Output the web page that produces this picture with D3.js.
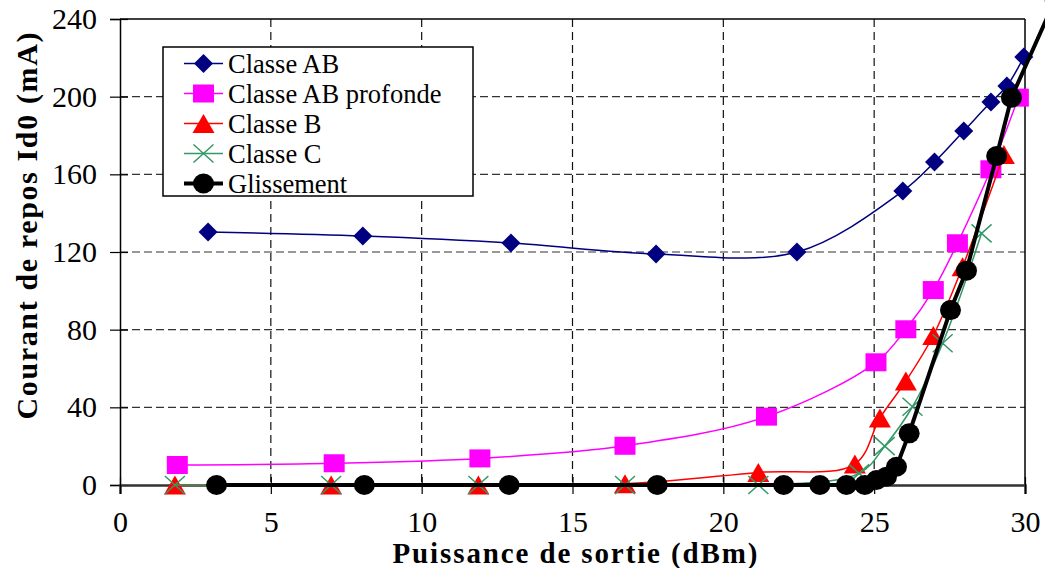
<!DOCTYPE html>
<html>
<head>
<meta charset="utf-8">
<script src="https://cdn.jsdelivr.net/npm/d3@7"></script>
<style>
  html, body { margin: 0; padding: 0; background: #fff; }
  svg { display: block; }
</style>
</head>
<body>
<svg id="chart" width="1045" height="568"></svg>
<script>
// Quiescent drain current vs. output power for several bias classes
const xTicks = [0, 5, 10, 15, 20, 25, 30];
const yTicks = [0, 40, 80, 120, 160, 200, 240];

const classeAB = [
  [2.92, 130.3], [8.05, 128.2], [12.96, 124.6], [17.77, 119], [22.44, 120],
  [25.95, 151.4], [27.0, 166.3], [27.97, 182.3], [28.87, 197.2], [29.4, 205.5], [29.96, 220.4]
];
const classeABProfonde = [
  [1.9, 10.3], [7.1, 11.2], [11.93, 13.7], [16.74, 20.2], [21.43, 35.2],
  [25.06, 63.2], [26.05, 80.2], [26.96, 100.4], [27.76, 124.5], [28.87, 162.6], [29.78, 199.5]
];
const classeB = [
  [1.82, 0], [7.0, 0], [11.88, 0], [16.74, 0.6], [21.16, 6.5],
  [24.36, 10.8], [25.19, 34.5], [26.05, 53.5], [26.96, 77], [27.93, 112.4], [29.3, 170.2]
];
const classeC = [
  [1.82, 0], [7.0, 0], [11.88, 0], [16.74, 0], [21.16, 0],
  [24.5, 6], [25.35, 20], [26.27, 40.3], [27.27, 73], [28.56, 129.6]
];
const glissement = [
  [3.2, 0], [8.1, 0], [12.9, 0], [17.81, 0], [22.0, 0], [23.2, 0], [24.08, 0], [24.69, 0],
  [25.08, 2.6], [25.41, 4.3], [25.74, 9.4], [26.16, 26.6], [27.53, 90.1], [28.06, 110.4],
  [29.06, 169.4], [29.55, 199.5], [31.0, 250]
];

const series = [
  { name: "Classe AB", data: classeAB, color: "#000080", width: 1.5, marker: "diamond", smooth: true },
  { name: "Classe AB profonde", data: classeABProfonde, color: "#FF00FF", width: 1.5, marker: "square", smooth: true },
  { name: "Classe B", data: classeB, color: "#FF0000", width: 1.5, marker: "triangle", smooth: true },
  { name: "Classe C", data: classeC, color: "#339966", width: 1.5, marker: "cross", smooth: true },
  { name: "Glissement", data: glissement, color: "#000000", width: 4, marker: "circle", smooth: false }
];

const svg = d3.select("#chart");
const x = d3.scaleLinear().domain([0, 30]).range([120, 1025]);
const y = d3.scaleLinear().domain([0, 240]).range([485, 19]);
const serif = '"Liberation Serif", "Times New Roman", serif';

// dashed grid
const grid = svg.append("g");
grid.selectAll("line.v").data(xTicks.filter(d => d > 0 && d < 30)).join("line")
  .attr("x1", d => x(d)).attr("x2", d => x(d)).attr("y1", y(240)).attr("y2", y(0))
  .attr("stroke", "#111").attr("stroke-width", 1.2).attr("stroke-dasharray", "8,5");
grid.selectAll("line.h").data(yTicks.filter(d => d > 0 && d < 240)).join("line")
  .attr("x1", x(0)).attr("x2", x(30)).attr("y1", d => y(d)).attr("y2", d => y(d))
  .attr("stroke", "#333").attr("stroke-width", 1.2).attr("stroke-dasharray", "8,4");

// frame top and right
svg.append("line").attr("x1", x(0)).attr("x2", x(30)).attr("y1", y(240)).attr("y2", y(240))
  .attr("stroke", "#000").attr("stroke-width", 1.5);
svg.append("line").attr("x1", x(30)).attr("x2", x(30)).attr("y1", y(240)).attr("y2", y(0))
  .attr("stroke", "#000").attr("stroke-width", 1.5);

// axes
const yAxis = svg.append("g").attr("transform", `translate(${x(0)},0)`)
  .call(d3.axisLeft(y).tickValues(yTicks).tickSize(10).tickPadding(13).tickFormat(d3.format("d")));
const xAxis = svg.append("g").attr("transform", `translate(0,${y(0)})`)
  .call(d3.axisBottom(x).tickValues(xTicks).tickSize(9).tickPadding(17).tickFormat(d3.format("d")));
[yAxis, xAxis].forEach(a => {
  a.attr("font-family", null);
  a.select(".domain").attr("stroke", "#000").attr("stroke-width", 1.5);
  a.selectAll(".tick line").attr("stroke", "#000").attr("stroke-width", 1.2);
  a.selectAll("text").style("font-family", serif).style("font-size", "30px").attr("fill", "#000");
});
yAxis.selectAll(".tick line").attr("x1", 8);
xAxis.selectAll(".tick line").attr("y1", -8);
xAxis.select(".domain").attr("stroke", "#333").attr("stroke-width", 2.5);

// marker shapes
function drawMarker(g, type, color, cx, cy) {
  if (type === "diamond") {
    g.append("path").attr("d", `M${cx},${cy - 9.5}L${cx + 9.5},${cy}L${cx},${cy + 9.5}L${cx - 9.5},${cy}Z`)
      .attr("fill", color);
  } else if (type === "square") {
    g.append("rect").attr("x", cx - 10.5).attr("y", cy - 9).attr("width", 21).attr("height", 18)
      .attr("fill", color);
  } else if (type === "triangle") {
    g.append("path").attr("d", `M${cx},${cy - 9.5}L${cx + 11},${cy + 9.5}L${cx - 11},${cy + 9.5}Z`)
      .attr("fill", color);
  } else if (type === "cross") {
    g.append("path").attr("d", `M${cx - 10},${cy - 9}L${cx + 10},${cy + 9}M${cx - 10},${cy + 9}L${cx + 10},${cy - 9}`)
      .attr("stroke", color).attr("stroke-width", 1.5).attr("fill", "none");
  } else if (type === "circle") {
    g.append("ellipse").attr("cx", cx).attr("cy", cy).attr("rx", 10.5).attr("ry", 10)
      .attr("fill", color);
  }
}

const smoothLine = d3.line().x(d => x(d[0])).y(d => y(d[1])).curve(d3.curveCatmullRom.alpha(0.5));
const straightLine = d3.line().x(d => x(d[0])).y(d => y(d[1]));

series.forEach(s => {
  const g = svg.append("g");
  g.append("path").attr("d", (s.smooth ? smoothLine : straightLine)(s.data))
    .attr("fill", "none").attr("stroke", s.color).attr("stroke-width", s.width)
    .attr("stroke-linejoin", "round");
  s.data.forEach(d => drawMarker(g, s.marker, s.color, x(d[0]), y(d[1])));
});

// legend
const legend = svg.append("g");
legend.append("rect").attr("x", 163).attr("y", 47).attr("width", 310).attr("height", 149)
  .attr("fill", "#fff").attr("stroke", "#000").attr("stroke-width", 1.5);
series.forEach((s, i) => {
  const cy = 63.5 + i * 30;
  legend.append("line").attr("x1", 184).attr("x2", 223).attr("y1", cy).attr("y2", cy)
    .attr("stroke", s.color).attr("stroke-width", s.width);
  drawMarker(legend, s.marker, s.color, 203.5, cy);
  legend.append("text").attr("x", 228).attr("y", cy + 9)
    .style("font-family", serif).style("font-size", "26.5px").attr("fill", "#000").text(s.name);
});

// axis titles
svg.append("text").attr("x", 575).attr("y", 563).attr("text-anchor", "middle")
  .style("font-family", serif).style("font-weight", "bold").style("font-size", "29px")
  .attr("textLength", 365).attr("lengthAdjust", "spacing")
  .text("Puissance de sortie (dBm)");
svg.append("text").attr("transform", "translate(37,226) rotate(-90)").attr("text-anchor", "middle")
  .style("font-family", serif).style("font-weight", "bold").style("font-size", "30px")
  .attr("textLength", 387).attr("lengthAdjust", "spacing")
  .text("Courant de repos Id0 (mA)");
</script>
</body>
</html>
